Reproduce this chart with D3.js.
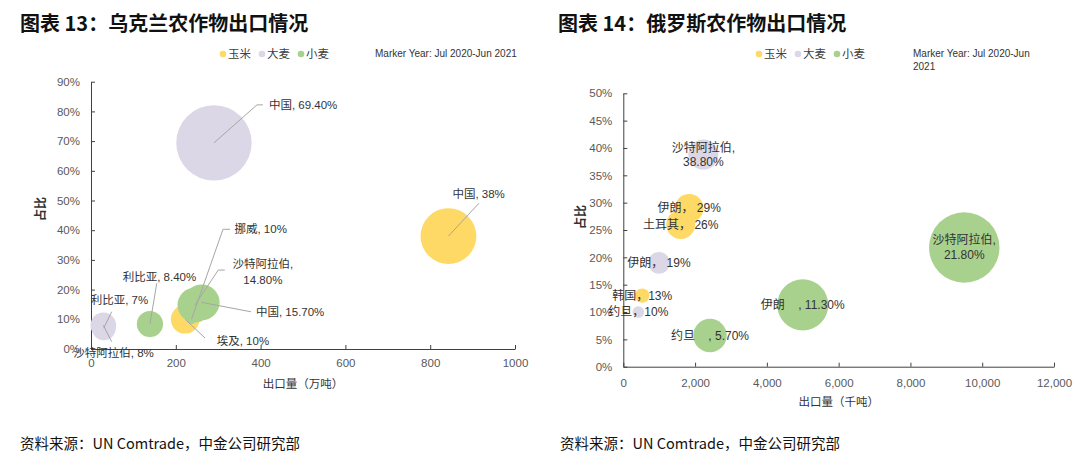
<!DOCTYPE html>
<html><head><meta charset="utf-8">
<script src="https://cdn.jsdelivr.net/npm/d3@7"></script>
<style>
html,body{margin:0;padding:0;background:#fff;}
svg{display:block;font-family:"Liberation Sans","Noto Sans CJK SC",sans-serif;}
</style></head>
<body>
<svg id="chart" width="1080" height="458"></svg>
<script>
// ---------- DATA ----------
const seriesNames = ["玉米", "大麦", "小麦"];
const seriesColors = ["#FFD966", "#DCD7E6", "#A9D18E"];

// Ukraine (x: 万吨, y: share, size)
const ukCornCountry = ["中国", "埃及"];
const ukCornX = [843, 222];
const ukCornY = [0.38, 0.10];
const ukCornSize = [38, 10];
const ukCornLabel = [["中国, 38%"], ["埃及, 10%"]];

const ukBarleyCountry = ["中国", "沙特阿拉伯", "利比亚"];
const ukBarleyX = [290, 29, 30];
const ukBarleyY = [0.694, 0.08, 0.07];
const ukBarleySize = [69.4, 8, 7];
const ukBarleyLabel = [["中国, 69.40%"], ["沙特阿拉伯, 8%"], ["利比亚, 7%"]];

const ukWheatCountry = ["利比亚", "中国", "沙特阿拉伯", "挪威"];
const ukWheatX = [139, 261, 245, 237];
const ukWheatY = [0.084, 0.157, 0.148, 0.10];
const ukWheatSize = [8.4, 15.7, 14.8, 1.1];
const ukWheatLabel = [["利比亚, 8.40%"], ["中国, 15.70%"], ["沙特阿拉伯,", "14.80%"], ["挪威, 10%"]];

const ukXTicks = [0, 200, 400, 600, 800, 1000];
const ukYTicks = [0, 0.1, 0.2, 0.3, 0.4, 0.5, 0.6, 0.7, 0.8, 0.9];

// Russia (x: 千吨, y: share, size)
const ruCornCountry = ["伊朗", "土耳其", "韩国"];
const ruCornX = [1835, 1600, 526];
const ruCornY = [0.29, 0.26, 0.13];
const ruCornSize = [1550, 1600, 400];
const ruCornLabel = [["伊朗， 29%"], ["土耳其， 26%"], ["韩国，13%"]];

const ruBarleyCountry = ["沙特阿拉伯", "伊朗", "约旦"];
const ruBarleyX = [2230, 994, 418];
const ruBarleyY = [0.388, 0.19, 0.10];
const ruBarleySize = [1730, 900, 260];
const ruBarleyLabel = [["沙特阿拉伯,", "38.80%"], ["伊朗， 19%"], ["约旦，10%"]];

const ruWheatCountry = ["约旦", "伊朗", "沙特阿拉伯"];
const ruWheatX = [2415, 5000, 9500];
const ruWheatY = [0.057, 0.113, 0.218];
const ruWheatSize = [2150, 5000, 9500];
const ruWheatLabel = [["约旦\u00a0\u00a0\u00a0\u00a0, 5.70%"], ["伊朗\u00a0\u00a0\u00a0\u00a0, 11.30%"], ["沙特阿拉伯,", "21.80%"]];

const ruXTicks = [0, 2000, 4000, 6000, 8000, 10000, 12000];
const ruYTicks = [0, 0.05, 0.1, 0.15, 0.2, 0.25, 0.3, 0.35, 0.4, 0.45, 0.5];

// ---------- LAYOUT (label placement offsets relative to bubble centre) ----------
const ukLabelLayout = {
  "大麦-中国": {dx: 55, dy: -38, anchor: "start", leader: [[43, -38], [49, -38]]},
  "玉米-中国": {dx: 4, dy: -42, anchor: "start", leader: [[30.6, -33]]},
  "小麦-挪威": {dx: 43, dy: -90, anchor: "start", leader: [[31.5, -90], [38.5, -90]]},
  "小麦-沙特阿拉伯": {dx: 68, dy: -41, anchor: "middle", leader: [[23.4, -35], [30, -35]]},
  "小麦-中国": {dx: 54.3, dy: 9.4, anchor: "start", leader: [[49.3, 9.4]]},
  "玉米-埃及": {dx: 31.6, dy: 21.4, anchor: "start", leader: [[19.9, 18.7]]},
  "小麦-利比亚": {dx: -27.2, dy: -47.3, anchor: "start", leader: [[6.8, -40.7]]},
  "大麦-利比亚": {dx: -13, dy: -28.2, anchor: "start", leader: [[8, -16.5]]},
  "大麦-沙特阿拉伯": {dx: -30, dy: 27.5, anchor: "start", leader: [[8.4, 16.5]]}
};

function build(series) {
  const out = [];
  series.forEach((s, si) => {
    s.country.forEach((c, i) => out.push({series: seriesNames[si], si, country: c, x: s.x[i], y: s.y[i], size: s.size[i], label: s.label[i]}));
  });
  return out;
}

const ukData = build([
  {country: ukCornCountry, x: ukCornX, y: ukCornY, size: ukCornSize, label: ukCornLabel},
  {country: ukBarleyCountry, x: ukBarleyX, y: ukBarleyY, size: ukBarleySize, label: ukBarleyLabel},
  {country: ukWheatCountry, x: ukWheatX, y: ukWheatY, size: ukWheatSize, label: ukWheatLabel}
]);
const ruData = build([
  {country: ruCornCountry, x: ruCornX, y: ruCornY, size: ruCornSize, label: ruCornLabel},
  {country: ruBarleyCountry, x: ruBarleyX, y: ruBarleyY, size: ruBarleySize, label: ruBarleyLabel},
  {country: ruWheatCountry, x: ruWheatX, y: ruWheatY, size: ruWheatSize, label: ruWheatLabel}
]);

const svg = d3.select("#chart");
const axisColor = "#404040", tickTextColor = "#595959", labelColor = "#333";

function header(x0, title, markerLines, legendX) {
  svg.append("text").attr("x", x0).attr("y", 22).attr("dominant-baseline", "central")
    .attr("font-family", "'Noto Sans CJK SC',sans-serif").attr("font-weight", "bold")
    .attr("font-size", 20).attr("fill", "#111").text(title);
  const lg = svg.append("g");
  const offs = [0, 39, 78];
  seriesNames.forEach((n, i) => {
    lg.append("circle").attr("cx", legendX + offs[i]).attr("cy", 54).attr("r", 3.3).attr("fill", seriesColors[i]);
    lg.append("text").attr("x", legendX + offs[i] + 5).attr("y", 54).attr("dominant-baseline", "central")
      .attr("font-size", 11.5).attr("fill", "#404040").text(n);
  });
  markerLines.forEach((t, i) => {
    svg.append("text").attr("x", x0 + 355).attr("y", 53 + i * 13.5).attr("dominant-baseline", "central")
      .attr("font-size", 10).attr("fill", "#333").text(t);
  });
}

function drawChart(cfg) {
  const x = d3.scaleLinear().domain(cfg.xDomain).range(cfg.xRange);
  const y = d3.scaleLinear().domain(cfg.yDomain).range(cfg.yRange);
  const r = d3.scaleSqrt().domain([0, cfg.sizeMax]).range([0, cfg.rMax]);
  const g = svg.append("g");

  // axes
  const xAxis = d3.axisBottom(x).tickValues(cfg.xTicks).tickFormat(d3.format(cfg.xFormat)).tickSizeInner(-4).tickSizeOuter(0).tickPadding(cfg.xPad);
  const yAxis = d3.axisLeft(y).tickValues(cfg.yTicks).tickFormat(d3.format(".0%")).tickSizeInner(-4).tickSizeOuter(0).tickPadding(cfg.yPad);
  const gx = g.append("g").attr("transform", `translate(0,${cfg.yRange[0]})`).call(xAxis);
  const gy = g.append("g").attr("transform", `translate(${cfg.xRange[0]},0)`).call(yAxis);
  [gx, gy].forEach(a => {
    a.select(".domain").attr("stroke", axisColor);
    a.selectAll(".tick line").attr("stroke", axisColor);
    a.selectAll(".tick text").attr("fill", tickTextColor).attr("font-size", 11.5)
      .attr("font-family", "'Liberation Sans',sans-serif");
  });

  // axis titles
  g.append("text").attr("x", (cfg.xRange[0] + cfg.xRange[1]) / 2).attr("y", cfg.xTitleY)
    .attr("text-anchor", "middle").attr("dominant-baseline", "central")
    .attr("font-size", 11.5).attr("fill", "#333").text(cfg.xTitle);
  g.append("text").attr("transform", `translate(${cfg.yTitleX},${cfg.yTitleY}) rotate(-90)`)
    .attr("text-anchor", "middle").attr("dominant-baseline", "central")
    .attr("font-size", 12).attr("font-weight", "bold").attr("fill", "#333").text("占比");

  // bubbles
  g.append("g").selectAll("circle").data(cfg.data).join("circle")
    .attr("cx", d => x(d.x)).attr("cy", d => y(d.y)).attr("r", d => r(d.size))
    .attr("fill", d => seriesColors[d.si]);

  // labels
  const lg = g.append("g");
  cfg.data.forEach(d => {
    const cx = x(d.x), cy = y(d.y);
    const L = cfg.layout ? cfg.layout[d.series + "-" + d.country] : null;
    let tx = cx, ty = cy, anchor = "middle";
    if (L) {
      tx = cx + L.dx; ty = cy + L.dy; anchor = L.anchor;
      const pts = [[cx, cy]].concat(L.leader.map(p => [cx + p[0], cy + p[1]]));
      lg.append("path").attr("d", d3.line()(pts)).attr("fill", "none").attr("stroke", "#A6A6A6").attr("stroke-width", 1);
    }
    const n = d.label.length;
    d.label.forEach((line, i) => {
      let yy;
      if (L) yy = ty + i * 15.5;
      else yy = n === 1 ? cy : cy + (i === 0 ? -7 : 7.5);
      lg.append("text").attr("x", tx).attr("y", yy).attr("text-anchor", anchor)
        .attr("dominant-baseline", "central").attr("font-size", cfg.labelSize)
        .attr("fill", labelColor).style("white-space", "pre").text(line);
    });
  });
}

header(20, "图表 13：乌克兰农作物出口情况", ["Marker Year: Jul 2020-Jun 2021"], 223);
header(558, "图表 14：俄罗斯农作物出口情况", ["Marker Year: Jul 2020-Jun", "2021"], 759);

drawChart({
  data: ukData, xDomain: [0, 1000], xRange: [91, 515], yDomain: [0, 0.9], yRange: [349, 81.7],
  sizeMax: 69.4, rMax: 37.7, xTicks: ukXTicks, yTicks: ukYTicks, xPad: 10, yPad: 11, xFormat: "d",
  xTitle: "出口量（万吨）", xTitleY: 384, yTitleX: 41, yTitleY: 209, layout: ukLabelLayout, labelSize: 11.5
});
drawChart({
  data: ruData, xDomain: [0, 12000], xRange: [623.3, 1054], yDomain: [0, 0.5], yRange: [366.7, 93.3],
  sizeMax: 9500, rMax: 35.2, xTicks: ruXTicks, yTicks: ruYTicks, xPad: 12.5, yPad: 11, xFormat: ",",
  xTitle: "出口量（千吨）", xTitleY: 402, yTitleX: 581, yTitleY: 217, layout: null, labelSize: 12
});

// footers
["资料来源：UN Comtrade，中金公司研究部"].forEach(t => {
  [20, 560].forEach(x0 => {
    svg.append("text").attr("x", x0).attr("y", 442).attr("dominant-baseline", "central")
      .attr("font-family", "'Liberation Sans Narrow','Noto Sans CJK SC',sans-serif")
      .attr("font-size", 14.5).attr("fill", "#111").text(t);
  });
});
</script>
</body></html>
